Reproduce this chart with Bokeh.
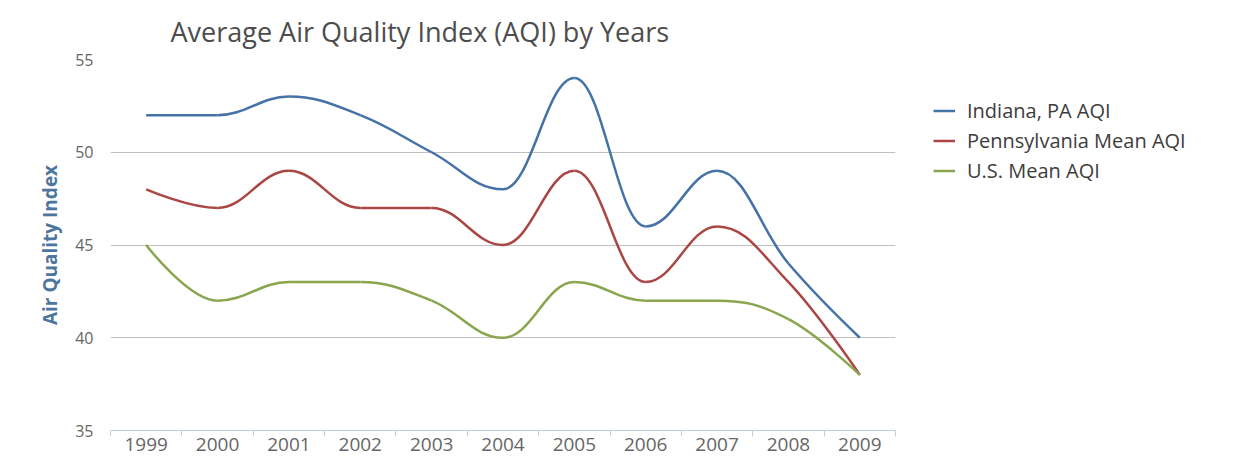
from bokeh.plotting import figure
from bokeh.models import FixedTicker, Legend, LegendItem, Range1d, ColumnDataSource
from bokeh.embed import file_html
from bokeh.resources import INLINE

# ---- data ----
years = [1999, 2000, 2001, 2002, 2003, 2004, 2005, 2006, 2007, 2008, 2009]
indiana_aqi = [52, 52, 53, 52, 50, 48, 54, 46, 49, 44, 40]
pennsylvania_aqi = [48, 47, 49, 47, 47, 45, 49, 43, 46, 43, 38]
us_aqi = [45, 42, 43, 43, 42, 40, 43, 42, 42, 41, 38]
series_names = ["Indiana, PA AQI", "Pennsylvania Mean AQI", "U.S. Mean AQI"]
series_colors = ["#4572A7", "#AA4643", "#89A54E"]
y_ticks = [35, 40, 45, 50, 55]

FONT = "Open Sans"


def spline_segments(xs, ys, smoothing=1.5):
    """Highcharts-style spline: bezier control points computed from the data."""
    n = len(xs)
    denom = smoothing + 1
    lc = [(x, y) for x, y in zip(xs, ys)]
    rc = [(x, y) for x, y in zip(xs, ys)]
    for i in range(1, n - 1):
        px, py = xs[i], ys[i]
        lx, ly = xs[i - 1], ys[i - 1]
        nx, ny = xs[i + 1], ys[i + 1]
        lcx = (smoothing * px + lx) / denom
        lcy = (smoothing * py + ly) / denom
        rcx = (smoothing * px + nx) / denom
        rcy = (smoothing * py + ny) / denom
        corr = 0
        if rcx != lcx:
            corr = ((rcy - lcy) * (rcx - px)) / (rcx - lcx) + py - rcy
        lcy += corr
        rcy += corr
        if lcy > ly and lcy > py:
            lcy = max(ly, py)
            rcy = 2 * py - lcy
        elif lcy < ly and lcy < py:
            lcy = min(ly, py)
            rcy = 2 * py - lcy
        if rcy > ny and rcy > py:
            rcy = max(ny, py)
            lcy = 2 * py - rcy
        elif rcy < ny and rcy < py:
            rcy = min(ny, py)
            lcy = 2 * py - rcy
        lc[i] = (lcx, lcy)
        rc[i] = (rcx, rcy)
    return dict(
        x0=xs[:-1], y0=ys[:-1], x1=xs[1:], y1=ys[1:],
        cx0=[c[0] for c in rc[:-1]], cy0=[c[1] for c in rc[:-1]],
        cx1=[c[0] for c in lc[1:]], cy1=[c[1] for c in lc[1:]],
    )


p = figure(
    frame_width=785, frame_height=371,
    x_range=Range1d(years[0] - 0.5, years[-1] + 0.5),
    y_range=Range1d(y_ticks[0], y_ticks[-1]),
    output_backend="svg", toolbar_location=None,
    min_border_left=110, min_border_right=355,
    min_border_top=59, min_border_bottom=28,
)
p.outline_line_color = None
p.background_fill_color = "white"

# title
p.title.text = "Average Air Quality Index (AQI) by Years"
p.title.text_font = FONT
p.title.text_font_size = "27px"
p.title.text_font_style = "normal"
p.title.text_color = "#4d4d4d"
p.title.align = "left"
p.title.offset = 60
p.title.standoff = 20

# grids
p.xgrid.visible = False
p.ygrid.ticker = FixedTicker(ticks=y_ticks[1:])
p.ygrid.grid_line_color = "#C0C0C0"
p.ygrid.grid_line_width = 1

# x axis (category-like: labels at years, tick marks on boundaries)
xa = p.xaxis[0]
xa.ticker = FixedTicker(ticks=years, minor_ticks=[years[0] - 0.5] + [y + 0.5 for y in years])
xa.major_tick_out = 0
xa.major_tick_in = 0
xa.minor_tick_out = 6
xa.minor_tick_in = 0
xa.minor_tick_line_color = "#C0D0E0"
xa.axis_line_color = "#C0D0E0"
xa.major_label_text_font = FONT
xa.major_label_text_font_size = "19px"
xa.major_label_text_color = "#666666"
xa.major_label_standoff = 1

# y axis
ya = p.yaxis[0]
ya.ticker = FixedTicker(ticks=y_ticks)
ya.axis_line_color = None
ya.major_tick_line_color = None
ya.minor_tick_line_color = None
ya.major_tick_out = 0
ya.major_tick_in = 0
ya.major_label_standoff = 17
ya.major_label_text_font = FONT
ya.major_label_text_font_size = "16px"
ya.major_label_text_color = "#666666"
ya.axis_label = "Air Quality Index"
ya.axis_label_text_font = FONT
ya.axis_label_text_font_size = "19px"
ya.axis_label_text_font_style = "bold"
ya.axis_label_text_color = "#4d759e"
ya.axis_label_standoff = 9

items = []
for name, vals, color in zip(series_names, [indiana_aqi, pennsylvania_aqi, us_aqi], series_colors):
    src = ColumnDataSource(spline_segments([float(v) for v in years], [float(v) for v in vals]))
    r = p.bezier(x0="x0", y0="y0", x1="x1", y1="y1", cx0="cx0", cy0="cy0", cx1="cx1", cy1="cy1",
                 source=src, line_color=color, line_width=2.5)
    items.append(LegendItem(label=name, renderers=[r]))

legend = Legend(items=items, location="top_left")
legend.padding = 0
legend.margin = 38
legend.spacing = 3
legend.border_line_color = None
legend.background_fill_alpha = 0
legend.glyph_width = 22
legend.glyph_height = 27
legend.label_height = 27
legend.label_standoff = 12
legend.label_text_font = FONT
legend.label_text_font_size = "20px"
legend.label_text_color = "#3d3d3d"
p.add_layout(legend, "right")

open("out.html", "w").write(file_html(p, INLINE))
